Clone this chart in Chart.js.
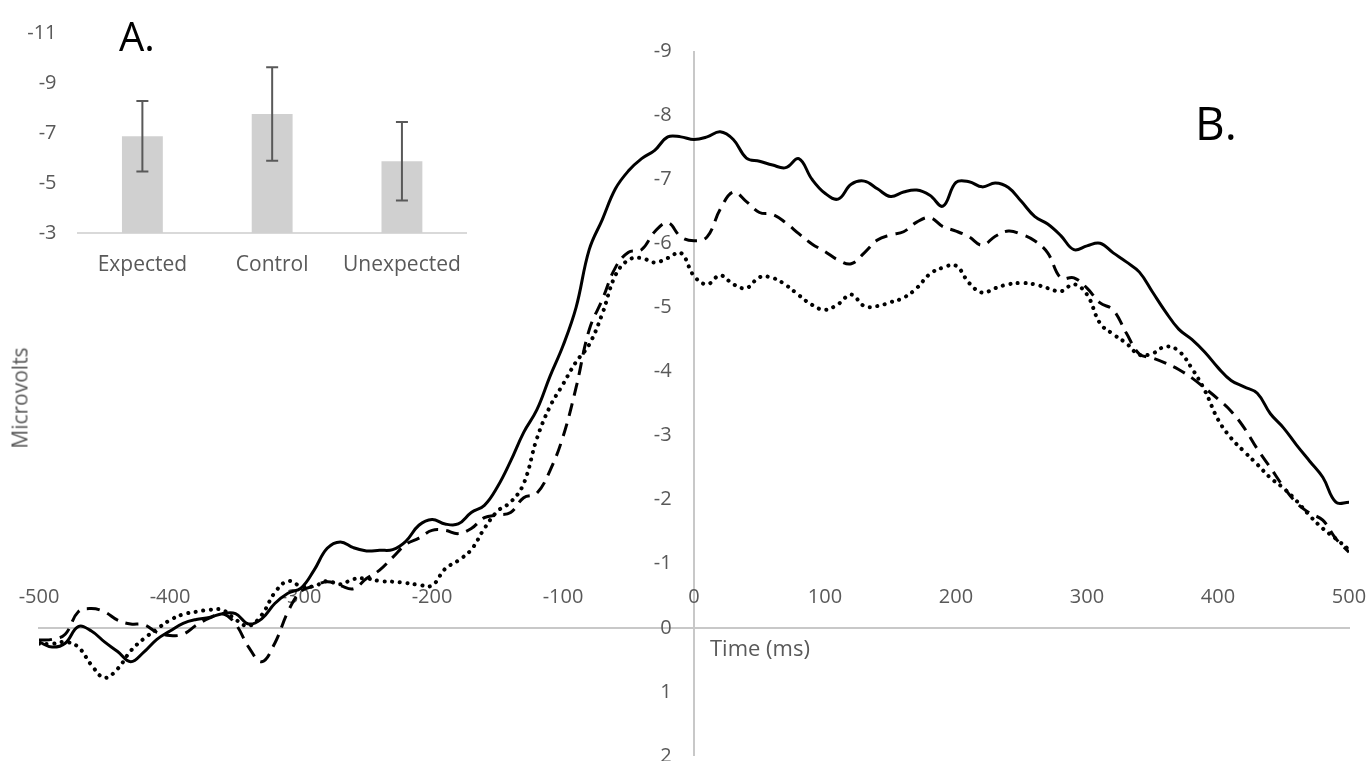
<!DOCTYPE html>
<html>
<head>
<meta charset="utf-8">
<script src="https://cdn.jsdelivr.net/npm/chart.js@4.4.1/dist/chart.umd.min.js"></script>
<style>
    html, body { margin: 0; padding: 0; background: #fff; overflow: hidden; }
    #page { position: relative; width: 1368px; height: 761px; overflow: hidden; font-family: "Open Sans", sans-serif; }
    #erpBox { position: absolute; left: 0; top: 0; width: 1368px; height: 790px; }
    #meanBox { position: absolute; left: 0; top: 0; width: 480px; height: 290px; }
    .txt { position: absolute; white-space: nowrap; line-height: 1; }
    #panelA { left: 119px; top: 16px; font-size: 40px; color: #000; }
    #panelB { left: 1195px; top: 99px; font-size: 46px; color: #000; }
    #yTitle { left: 20px; top: 398px; font-size: 21px; color: #595959; transform: translate(-50%, -50%) rotate(-90deg); }
    #xTitle { left: 710px; top: 636px; font-size: 22px; color: #595959; }
</style>
</head>
<body>
<div id="page">
    <div id="erpBox"><canvas id="erpChart"></canvas></div>
    <div id="meanBox"><canvas id="meanChart"></canvas></div>
    <div class="txt" id="panelA">A.</div>
    <div class="txt" id="panelB">B.</div>
    <div class="txt" id="yTitle">Microvolts</div>
    <div class="txt" id="xTitle">Time (ms)</div>
</div>
<script>
// waveforms, one value every 10 ms from -500 to 500
const timesMs = [];
for (let t = -500; t <= 500; t += 10) timesMs.push(t);

const controlUv = [
    0.22, 0.30, 0.24, -0.02, 0.05, 0.22, 0.37, 0.53, 0.38, 0.18,
    0.05, -0.07, -0.13, -0.16, -0.22, -0.22, -0.06, -0.14, -0.38, -0.54,
    -0.62, -0.90, -1.24, -1.34, -1.25, -1.20, -1.21, -1.22, -1.35, -1.60,
    -1.69, -1.62, -1.62, -1.80, -1.91, -2.20, -2.60, -3.05, -3.40, -3.92,
    -4.40, -5.00, -5.90, -6.37, -6.85, -7.13, -7.32, -7.45, -7.66, -7.66,
    -7.62, -7.66, -7.74, -7.62, -7.33, -7.28, -7.22, -7.18, -7.32, -7.00,
    -6.78, -6.69, -6.92, -6.97, -6.85, -6.73, -6.80, -6.83, -6.75, -6.58,
    -6.95, -6.96, -6.88, -6.94, -6.87, -6.65, -6.42, -6.30, -6.12, -5.90,
    -5.96, -6.00, -5.85, -5.71, -5.55, -5.24, -4.93, -4.66, -4.50, -4.30,
    -4.06, -3.86, -3.76, -3.66, -3.34, -3.12, -2.85, -2.60, -2.35, -1.96,
    -1.96
];

const expectedUv = [
    0.19, 0.18, 0.10, -0.25, -0.30, -0.25, -0.12, -0.06, -0.05, 0.07,
    0.12, 0.10, -0.04, -0.15, -0.22, -0.06, 0.30, 0.53, 0.24, -0.25,
    -0.57, -0.65, -0.72, -0.66, -0.61, -0.77, -0.90, -1.10, -1.30, -1.40,
    -1.52, -1.52, -1.47, -1.55, -1.72, -1.76, -1.80, -2.03, -2.10, -2.45,
    -2.98, -3.75, -4.65, -5.12, -5.62, -5.86, -5.90, -6.18, -6.32, -6.10,
    -6.04, -6.10, -6.53, -6.80, -6.65, -6.48, -6.45, -6.32, -6.15, -5.99,
    -5.87, -5.74, -5.68, -5.85, -6.05, -6.13, -6.18, -6.33, -6.40, -6.26,
    -6.19, -6.10, -5.97, -6.11, -6.19, -6.14, -6.04, -5.85, -5.46, -5.46,
    -5.30, -5.07, -4.96, -4.60, -4.27, -4.21, -4.13, -4.03, -3.90, -3.74,
    -3.57, -3.38, -3.12, -2.79, -2.50, -2.20, -1.95, -1.79, -1.68, -1.39,
    -1.18
];

const unexpectedUv = [
    0.25, 0.25, 0.22, 0.30, 0.58, 0.78, 0.64, 0.36, 0.17, 0.02,
    -0.12, -0.21, -0.25, -0.28, -0.28, -0.13, -0.03, -0.20, -0.55, -0.73,
    -0.65, -0.65, -0.73, -0.68, -0.76, -0.77, -0.73, -0.72, -0.70, -0.67,
    -0.66, -0.92, -1.05, -1.22, -1.55, -1.82, -1.96, -2.25, -2.95, -3.45,
    -3.80, -4.15, -4.42, -4.90, -5.50, -5.74, -5.77, -5.70, -5.77, -5.85,
    -5.49, -5.36, -5.50, -5.36, -5.30, -5.47, -5.46, -5.35, -5.19, -5.04,
    -4.96, -5.05, -5.20, -5.02, -5.02, -5.08, -5.15, -5.30, -5.52, -5.62,
    -5.65, -5.38, -5.23, -5.30, -5.36, -5.38, -5.36, -5.30, -5.25, -5.36,
    -5.20, -4.75, -4.58, -4.44, -4.26, -4.28, -4.39, -4.32, -4.05, -3.70,
    -3.25, -2.96, -2.75, -2.55, -2.34, -2.18, -1.98, -1.75, -1.55, -1.39,
    -1.22
];

// mean amplitude per condition, with error
const conditions = ['Expected', 'Control', 'Unexpected'];
const meanUv = [-6.87, -7.76, -5.87];
const errUv = [1.41, 1.87, 1.57];

const tickGrey = '#595959';
const axisGrey = '#c8c8c8';
const tickFont = { family: '"Open Sans", sans-serif', size: 20 };
const catFont = { family: '"Open Sans", sans-serif', size: 21 };

function wave(label, values, dash, cap, width) {
    return {
        label: label,
        data: values.map((v, i) => ({ x: timesMs[i], y: v })),
        borderColor: '#000',
        borderWidth: width,
        borderDash: dash,
        borderCapStyle: cap,
        tension: 0.4,
        pointRadius: 0,
        fill: false
    };
}

new Chart(document.getElementById('erpChart'), {
    type: 'line',
    data: {
        datasets: [
            wave('Control', controlUv, [], 'butt', 3),
            wave('Expected', expectedUv, [13, 8], 'butt', 3),
            wave('Unexpected', unexpectedUv, [0.1, 7.5], 'round', 4)
        ]
    },
    options: {
        responsive: true,
        maintainAspectRatio: false,
        animation: false,
        layout: { padding: { left: 39, right: 19, top: 51, bottom: 34 } },
        plugins: { legend: { display: false }, tooltip: { enabled: false } },
        scales: {
            x: {
                type: 'linear',
                min: -500,
                max: 500,
                position: { y: 0 },
                grid: {
                    drawTicks: false,
                    lineWidth: 2,
                    color: c => (c.tick && c.tick.value === 0) ? axisGrey : 'rgba(0,0,0,0)'
                },
                border: { color: axisGrey, width: 2 },
                ticks: { stepSize: 100, padding: -43, color: tickGrey, font: tickFont }
            },
            y: {
                min: -9,
                max: 2,
                reverse: true,
                position: { x: -17 },
                grid: { display: false, drawTicks: false },
                border: { display: false },
                ticks: { stepSize: 1, color: tickGrey, font: tickFont }
            }
        }
    }
});

const errorBars = {
    id: 'errorBars',
    afterDatasetsDraw(chart) {
        const { ctx, scales: { x, y } } = chart;
        ctx.save();
        ctx.strokeStyle = '#595959';
        ctx.lineWidth = 2;
        meanUv.forEach((m, i) => {
            const px = x.getPixelForValue(i);
            const top = y.getPixelForValue(m - errUv[i]);
            const bot = y.getPixelForValue(m + errUv[i]);
            ctx.beginPath();
            ctx.moveTo(px, top); ctx.lineTo(px, bot);
            ctx.moveTo(px - 6, top); ctx.lineTo(px + 6, top);
            ctx.moveTo(px - 6, bot); ctx.lineTo(px + 6, bot);
            ctx.stroke();
        });
        ctx.restore();
    }
};

new Chart(document.getElementById('meanChart'), {
    type: 'bar',
    data: {
        labels: conditions,
        datasets: [{
            data: meanUv,
            base: -3,
            backgroundColor: '#d0d0d0',
            categoryPercentage: 1,
            barPercentage: 0.315
        }]
    },
    options: {
        responsive: true,
        maintainAspectRatio: false,
        animation: false,
        layout: { padding: { left: 0, right: 1, top: 25, bottom: 0 } },
        plugins: { legend: { display: false }, tooltip: { enabled: false } },
        scales: {
            x: {
                grid: { display: false, drawTicks: false },
                border: { color: '#d9d9d9', width: 2 },
                ticks: { padding: 19, color: tickGrey, font: catFont },
                afterFit: s => { s.height = 57; }
            },
            y: {
                min: -11,
                max: -3,
                reverse: true,
                grid: { display: false, drawTicks: false },
                border: { display: false },
                ticks: { stepSize: 2, padding: 21, color: tickGrey, font: tickFont },
                afterFit: s => { s.width = 77.5; }
            }
        }
    },
    plugins: [errorBars]
});
</script>
</body>
</html>
